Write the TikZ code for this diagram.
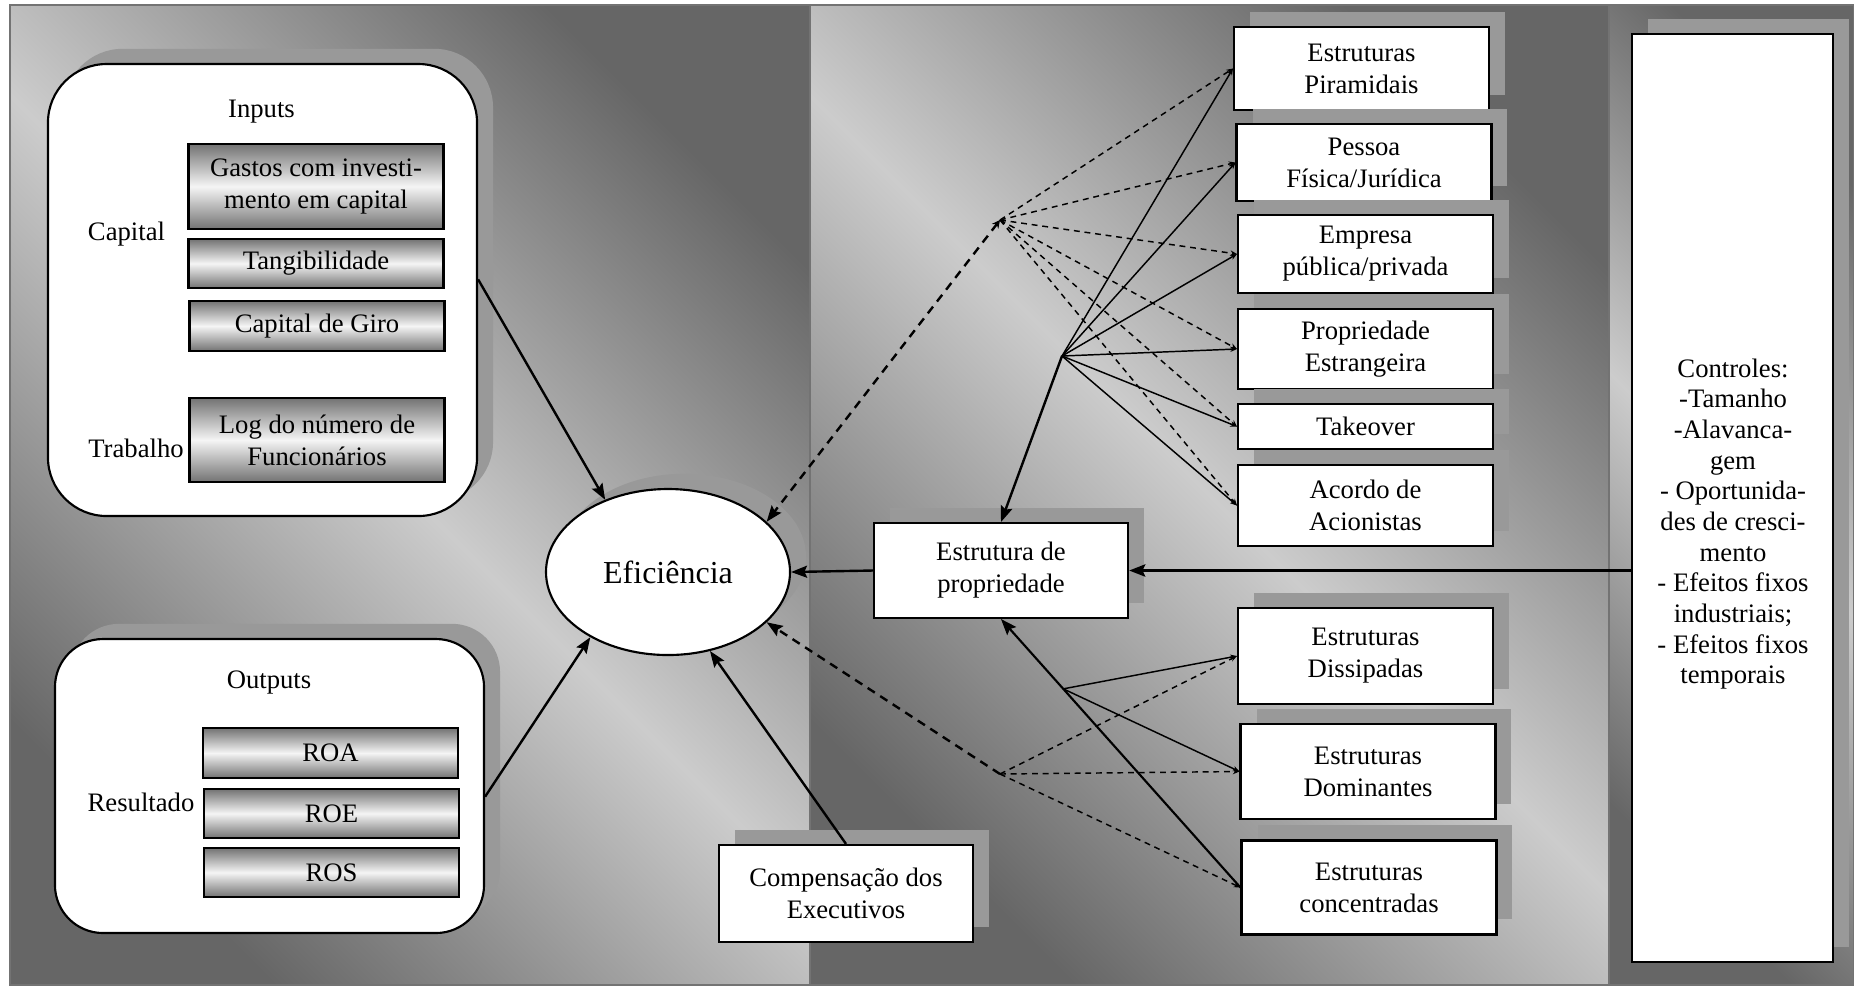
\documentclass[tikz,border=0pt]{standalone}
\usepackage{fontspec}
\setmainfont{Liberation Serif}
\usetikzlibrary{shapes.geometric,shadows,arrows.meta,calc}

\tikzset{
  panel/.style={draw=black!55,line width=1pt,top color=black!60,bottom color=black!60,middle color=black!20,shading angle=-45},
  shadebox/.style={drop shadow={shadow xshift=6pt,shadow yshift=5.7pt,fill=black!40,opacity=1}},
  whitebox/.style={draw,line width=0.8pt,fill=white,align=center,inner sep=2pt,shadebox},
  rightbox/.style={whitebox,minimum width=95.6pt},
  metalbox/.style={draw,line width=0.8pt,top color=black!55,bottom color=black!55,middle color=black!4,align=center,minimum width=95.6pt,inner sep=2pt},
  groupbox/.style={draw,line width=0.8pt,fill=white,minimum width=160.9pt,shadebox},
  arr/.style={-{Stealth[length=6pt,width=4.5pt,inset=1pt]},line width=0.9pt},
  hubline/.style={-{Stealth[length=2.5pt,width=2pt]},line width=0.55pt},
  hubdash/.style={hubline,dash pattern=on 2.2pt off 1.8pt},
  longdash/.style={arr,dash pattern=on 3.2pt off 2.4pt}
}

\begin{document}
\begin{tikzpicture}[x=0.375pt,y=-0.375pt]
\useasboundingbox (0,0) rectangle (1854,985);

% background panels
\path[panel] (10,5) rectangle (810,985);
\path[panel] (810,5) rectangle (1609,985);
\path[panel] (1609,5) rectangle (1854,985);

% inputs and outputs
\node[groupbox,rounded corners=22pt,minimum height=169.5pt] (inputs) at (262.5,290) {};
\node[groupbox,rounded corners=18pt,minimum height=110.25pt] (outputs) at (269.5,786) {};

\node (inlabel) at (261.5,112) {Inputs};
\node (caplabel) at (126.5,234) {Capital};
\node (trablabel) at (136,448) {Trabalho};
\node[metalbox,minimum height=31.9pt] (gastos) at (316,186.5) {Gastos com investi-\\mento em capital};
\node[metalbox,minimum height=18.4pt] (tang) at (316,263.5) {Tangibilidade};
\node[metalbox,minimum height=18.75pt] (giro) at (317,326) {Capital de Giro};
\node[metalbox,minimum height=31.5pt] (logf) at (317,440) {Log do número de\\Funcionários};

\node (outlabel) at (269,682) {Outputs};
\node (reslabel) at (141,802) {Resultado};
\node[metalbox,minimum height=18.75pt] (roa) at (330.5,753) {ROA};
\node[metalbox,minimum height=18.4pt] (roe) at (331.5,813.5) {ROE};
\node[metalbox,minimum height=18.4pt] (ros) at (331.5,872.5) {ROS};

% centre
\node[ellipse,draw,line width=0.8pt,fill=white,minimum width=91.5pt,minimum height=62.25pt,inner sep=0pt,shadebox,font=\fontsize{12}{14}\selectfont] (eff) at (668,572) {\raisebox{-2pt}{Eficiência}};
\node[whitebox,minimum width=95.25pt,minimum height=36.4pt] (comp) at (846,893.5) {Compensação dos\\Executivos};
\node[whitebox,minimum width=95.25pt,minimum height=35.6pt] (estr) at (1001,570.5) {Estrutura de\\propriedade};

% ownership boxes
\node[rightbox,minimum height=31.1pt] (pir) at (1361.5,68.5) {Estruturas\\Piramidais};
\node[rightbox,minimum height=28.9pt] (pes) at (1364,162.5) {Pessoa\\Física/Jurídica};
\node[rightbox,minimum height=29.25pt] (emp) at (1365.5,254) {Empresa\\pública/privada};
\node[rightbox,minimum height=30pt] (prop) at (1365.5,349) {Propriedade\\Estrangeira};
\node[rightbox,minimum height=16.9pt] (take) at (1365.5,426.5) {Takeover};
\node[rightbox,minimum height=30.4pt] (acord) at (1365.5,505.5) {Acordo de\\Acionistas};

\node[rightbox,minimum height=36pt] (diss) at (1365.5,656) {Estruturas\\Dissipadas};
\node[rightbox,minimum height=35.6pt] (dom) at (1368,771.5) {Estruturas\\Dominantes};
\node[rightbox,minimum height=35.25pt] (conc) at (1369,887.5) {Estruturas\\concentradas};

% controls
\node[draw,line width=1pt,fill=white,minimum width=75.4pt,minimum height=348pt,shadebox] (ctrl) at (1732.5,498) {};
\node[align=center,font=\fontsize{10}{11.5}\selectfont] (ctrltext) at (1733,524) {Controles:\\-Tamanho\\-Alavanca-\\gem\\- Oportunida-\\des de cresci-\\mento\\- Efeitos fixos\\industriais;\\- Efeitos fixos\\temporais};

% hubs
\coordinate (hubup) at (1000,220);
\coordinate (hubsol) at (1062,356);
\coordinate (hublow) at ($(conc.west)!0.74!(estr.south)$);
\coordinate (hubdash) at (1000,774);

% arrows into efficiency
\draw[arr] ([yshift=4pt]inputs.east) -- (eff.131);
\draw[arr] ([yshift=-4pt]outputs.east) -- (eff.220);
\draw[arr] (comp.north) -- (eff.298);
\draw[arr] (estr.west) -- (eff.east);
\draw[arr,line width=1.4pt] (estr.east -| ctrl.west) -- (estr.east);

% upper group
\foreach \b in {pir,pes,emp,prop,take,acord} {
  \draw[hubdash] (hubup) -- (\b.west);
  \draw[hubline] (hubsol) -- (\b.west);
}
\draw[longdash,{Stealth[length=3pt,width=3pt]}-{Stealth[length=6pt,width=4.5pt,inset=1pt]}] (hubup) -- (eff.27);
\draw[arr] (hubsol) -- (estr.north);

% lower group
\draw[arr,line width=0.8pt] (conc.west) -- (estr.south);
\foreach \b in {diss,dom}
  \draw[hubline] (hublow) -- (\b.west);
\foreach \b in {diss,dom,conc}
  \draw[hubdash] (hubdash) -- (\b.west);
\draw[longdash] (hubdash) -- (eff.333);
\end{tikzpicture}
\end{document}
